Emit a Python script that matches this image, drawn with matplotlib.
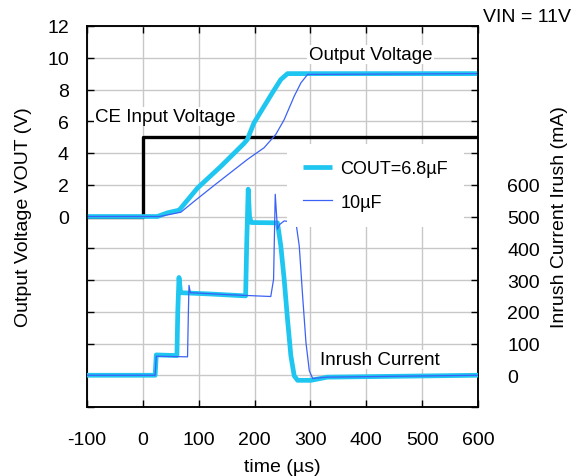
import matplotlib
matplotlib.use("Agg")
import matplotlib.pyplot as plt

# ---- data ----
ce_t = [-100, 0, 0, 600]
ce_v = [0, 0, 5, 5]

vout68_t = [-100, 26, 44, 65, 98, 140, 181, 187, 199, 232, 247, 259, 600]
vout68_v = [0, 0, 0.23, 0.4, 1.8, 3.17, 4.6, 4.85, 5.9, 7.8, 8.63, 9.0, 9.0]

vout10_t = [-100, 30, 68, 92, 128, 187, 217, 238, 253, 271, 283, 295, 600]
vout10_v = [0, 0, 0.27, 0.96, 1.97, 3.59, 4.33, 5.17, 6.1, 7.58, 8.42, 8.95, 9.0]

i68_t = [-100, 22, 24, 61, 62.5, 64.7, 67.6, 120, 184, 186, 188.6, 191, 194,
         241, 247, 253, 259, 265, 271, 277, 301, 330, 600]
i68_v = [0, 0, 64, 62, 200, 308, 260, 256, 250, 420, 586, 500, 481,
         480, 407, 302, 176, 61, -2, -16, -16, -6, 0]

i10_t = [-100, 22, 24, 80, 81.5, 82.6, 85, 150, 229, 234, 237, 241, 245, 253,
         274, 280, 286, 292, 298, 304, 330, 600]
i10_v = [0, 0, 60, 58, 200, 283, 260, 254, 248, 302, 570, 460, 475, 486,
         482, 407, 250, 103, 14, -10, -6, 0]

x_ticks = [-100, 0, 100, 200, 300, 400, 500, 600]
v_ticks = list(range(-12, 13, 2))
v_labels = [str(v) if v >= 0 else "" for v in v_ticks]
i_ticks = list(range(-100, 1101, 100))
i_labels = [str(i) if 0 <= i <= 600 else "" for i in i_ticks]

CYAN = "#1EC6F0"
BLUE = "#3B62F6"

plt.rcParams["font.family"] = ["Liberation Sans", "DejaVu Sans"]
plt.rcParams["axes.unicode_minus"] = False

fig = plt.figure(figsize=(5.77, 4.77), dpi=100)
ax = fig.add_axes([87 / 577, 1 - 408 / 477, 391 / 577, 381 / 477])
ax2 = ax.twinx()

ax.set_xlim(-100, 600)
ax.set_ylim(-12, 12)
ax2.set_ylim(-100, 1100)

ax.grid(True, color="#C8C8C8", linewidth=1.0)
ax.set_axisbelow(True)

ax.plot(ce_t, ce_v, color="black", lw=2.4, zorder=3)
l68, = ax.plot(vout68_t, vout68_v, color=CYAN, lw=3.4, zorder=4,
               solid_capstyle="butt", label="COUT=6.8µF")
l10, = ax.plot(vout10_t, vout10_v, color=BLUE, lw=0.9, zorder=5, label="10µF")

ax2.plot(i68_t, i68_v, color=CYAN, lw=3.4, zorder=4)
ax2.plot(i10_t, i10_v, color=BLUE, lw=0.9, zorder=5)

ax.set_xticks(x_ticks)
ax.set_yticks(v_ticks)
ax.set_yticklabels(v_labels)
ax2.set_yticks(i_ticks)
ax2.set_yticklabels(i_labels)

ax.tick_params(axis="both", direction="in", length=5, width=1, labelsize=14,
               top=True, colors="black")
ax.tick_params(axis="y", pad=13)
ax.tick_params(axis="x", pad=17.5)
ax2.tick_params(axis="y", direction="in", length=5, width=1, labelsize=14, pad=21)

for sp in list(ax.spines.values()) + list(ax2.spines.values()):
    sp.set_color("black")
    sp.set_linewidth(1.1)

ax.set_xlabel("time (µs)", fontsize=14, labelpad=7)
ax.set_ylabel("Output Voltage VOUT (V)", fontsize=14, labelpad=11)
ax2.set_ylabel("Inrush Current Irush (mA)", fontsize=14, labelpad=8)

bb = dict(facecolor="white", edgecolor="none", pad=1)
ax.text(-85, 6.3, "CE Input Voltage", fontsize=13.5, va="center", ha="left", bbox=bb, zorder=2)
ax.text(297, 10.2, "Output Voltage", fontsize=13.5, va="center", ha="left", bbox=bb, zorder=2)
ax2.text(317, 50, "Inrush Current", fontsize=13.5, va="center", ha="left", bbox=bb, zorder=2)

leg = ax2.legend(handles=[l68, l10], loc="upper left",
                 bbox_to_anchor=(0.5115, 0.690), borderaxespad=0,
                 frameon=True, fancybox=False, framealpha=1,
                 facecolor="white", edgecolor="none", fontsize=13,
                 handlelength=1.6, handletextpad=0.45, labelspacing=0.9,
                 borderpad=0.9)

fig.text(483 / 577, 1 - 22 / 477, "VIN = 11V", fontsize=14, ha="left", va="baseline")

fig.savefig("out.png", dpi=100)
